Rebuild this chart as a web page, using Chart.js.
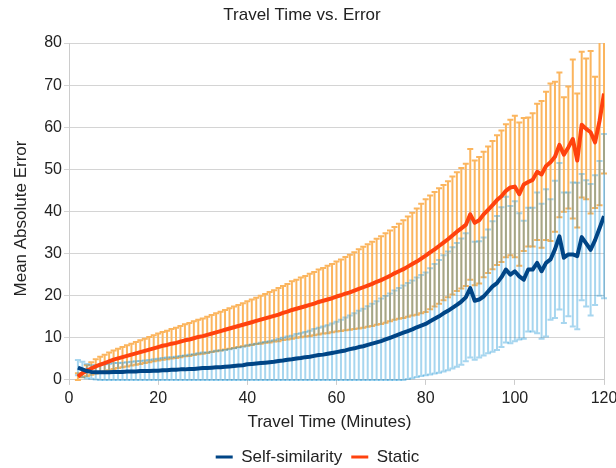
<!DOCTYPE html>
<html lang="en">
<head>
    <meta charset="UTF-8">
    <title>Travel Time vs. Error</title>
    <script src="https://cdn.jsdelivr.net/npm/chart.js@4.4.0/dist/chart.umd.min.js"></script>
    <style>
        html, body { margin: 0; padding: 0; background: #fff; }
        canvas { display: block; }
    </style>
</head>
<body>
    <canvas id="myChart" width="616" height="468"></canvas>
    <script>
        // travel time in minutes (x values)
        const minutes = [2, 3, 4, 5, 6, 7, 8, 9, 10,
            11, 12, 13, 14, 15, 16, 17, 18, 19, 20,
            21, 22, 23, 24, 25, 26, 27, 28, 29, 30,
            31, 32, 33, 34, 35, 36, 37, 38, 39, 40,
            41, 42, 43, 44, 45, 46, 47, 48, 49, 50,
            51, 52, 53, 54, 55, 56, 57, 58, 59, 60,
            61, 62, 63, 64, 65, 66, 67, 68, 69, 70,
            71, 72, 73, 74, 75, 76, 77, 78, 79, 80,
            81, 82, 83, 84, 85, 86, 87, 88, 89, 90,
            91, 92, 93, 94, 95, 96, 97, 98, 99, 100,
            101, 102, 103, 104, 105, 106, 107, 108, 109, 110,
            111, 112, 113, 114, 115, 116, 117, 118, 119, 120];

        // Self-similarity: mean absolute error and its deviation
        const ssMean = [2.9, 2.5, 2.1, 1.9, 1.8, 1.8, 1.8, 1.8, 1.9,
            1.9, 1.9, 2.0, 2.0, 2.0, 2.1, 2.1, 2.1, 2.2, 2.2,
            2.3, 2.3, 2.4, 2.4, 2.5, 2.5, 2.6, 2.6, 2.7, 2.8,
            2.8, 2.9, 3.0, 3.0, 3.1, 3.2, 3.3, 3.4, 3.5, 3.7,
            3.8, 3.9, 4.0, 4.1, 4.2, 4.3, 4.5, 4.6, 4.8, 4.9,
            5.1, 5.2, 5.4, 5.5, 5.7, 5.9, 6.0, 6.2, 6.4, 6.6,
            6.8, 7.0, 7.3, 7.5, 7.8, 8.0, 8.3, 8.6, 8.9, 9.2,
            9.6, 10.0, 10.4, 10.8, 11.2, 11.6, 12.0, 12.5, 12.9, 13.3,
            13.9, 14.5, 15.1, 15.8, 16.4, 17.1, 17.8, 18.6, 19.6, 21.8,
            18.8, 19.1, 19.8, 21.0, 22.2, 23.0, 24.4, 26.2, 25.0, 25.8,
            24.6, 23.8, 26.2, 26.2, 27.8, 25.8, 27.8, 28.6, 31.0, 34.1,
            29.0, 29.8, 29.8, 29.4, 33.9, 32.4, 30.9, 33.2, 36.0, 38.9];
        const ssSd = [1.8, 1.8, 1.7, 1.6, 1.7, 1.8, 1.9, 2.0, 2.1,
            2.1, 2.2, 2.2, 2.3, 2.4, 2.4, 2.5, 2.6, 2.7, 2.8,
            2.9, 3.0, 3.0, 3.1, 3.2, 3.3, 3.4, 3.5, 3.6, 3.7,
            3.7, 3.8, 3.9, 4.0, 4.0, 4.1, 4.2, 4.3, 4.4, 4.5,
            4.6, 4.7, 4.8, 4.9, 5.0, 5.1, 5.2, 5.4, 5.5, 5.6,
            5.8, 5.9, 6.0, 6.2, 6.4, 6.5, 6.7, 6.8, 7.0, 7.2,
            7.5, 7.8, 8.0, 8.3, 8.6, 8.9, 9.2, 9.5, 9.8, 10.1,
            10.3, 10.5, 10.8, 11.0, 11.2, 11.4, 11.6, 11.8, 12.0, 12.2,
            12.6, 13.0, 13.4, 13.8, 14.1, 14.4, 14.7, 15.0, 15.2, 16.5,
            14.0, 13.8, 14.0, 14.7, 15.5, 15.9, 16.6, 17.3, 16.3, 16.6,
            15.0, 14.0, 14.7, 14.7, 16.7, 16.0, 17.5, 14.3, 16.3, 17.4,
            15.5, 14.7, 17.1, 17.4, 15.0, 15.0, 15.6, 15.4, 16.0, 19.5];

        // Static: mean absolute error and its deviation
        const stMean = [0.8, 1.6, 2.2, 2.7, 3.2, 3.6, 4.0, 4.4, 4.8,
            5.1, 5.4, 5.7, 6.0, 6.3, 6.6, 6.9, 7.2, 7.5, 7.8,
            8.1, 8.3, 8.6, 8.8, 9.1, 9.4, 9.6, 9.9, 10.2, 10.4,
            10.7, 11.0, 11.3, 11.6, 11.9, 12.2, 12.5, 12.8, 13.1, 13.4,
            13.7, 14.0, 14.3, 14.6, 14.9, 15.2, 15.5, 15.9, 16.2, 16.6,
            16.9, 17.2, 17.5, 17.8, 18.1, 18.5, 18.8, 19.1, 19.4, 19.8,
            20.1, 20.5, 20.8, 21.2, 21.6, 22.0, 22.4, 22.8, 23.3, 23.7,
            24.2, 24.7, 25.3, 25.8, 26.3, 26.9, 27.5, 28.1, 28.8, 29.5,
            30.3, 31.0, 31.8, 32.6, 33.4, 34.3, 35.2, 36.0, 36.8, 39.3,
            37.3, 37.9, 39.3, 40.4, 41.5, 42.7, 43.6, 44.9, 45.7, 45.9,
            44.1, 46.4, 47.0, 47.5, 49.4, 48.8, 50.8, 51.7, 53.0, 55.8,
            53.5, 55.2, 57.2, 52.1, 60.6, 59.6, 58.8, 56.4, 61.5, 68.0];
        const stSd = [0.8, 1.0, 1.3, 1.5, 1.7, 1.9, 2.0, 2.1, 2.2,
            2.3, 2.4, 2.5, 2.6, 2.7, 2.8, 2.9, 3.0, 3.1, 3.2,
            3.3, 3.4, 3.5, 3.6, 3.7, 3.8, 3.9, 4.0, 4.1, 4.2,
            4.3, 4.4, 4.5, 4.6, 4.7, 4.8, 4.9, 5.0, 5.1, 5.3,
            5.4, 5.5, 5.7, 5.8, 6.0, 6.1, 6.3, 6.4, 6.6, 6.8,
            6.9, 7.1, 7.2, 7.4, 7.5, 7.7, 7.8, 8.0, 8.1, 8.3,
            8.5, 8.7, 8.9, 9.1, 9.4, 9.6, 9.8, 10.0, 10.2, 10.4,
            10.6, 10.8, 11.0, 11.3, 11.6, 11.9, 12.2, 12.6, 13.0, 13.4,
            13.5, 13.6, 13.7, 13.7, 13.8, 14.0, 14.1, 14.3, 14.5, 15.5,
            14.8, 15.0, 14.9, 15.0, 15.2, 15.4, 15.6, 15.8, 16.1, 16.8,
            17.0, 15.8, 15.3, 15.8, 16.2, 17.4, 17.6, 18.7, 17.8, 17.2,
            13.6, 14.5, 18.9, 15.9, 17.3, 16.7, 19.3, 15.6, 20.0, 19.0];

        const yMax = 80;
        const ssColor = '#004586';
        const stColor = '#ff420e';

        Chart.defaults.font.family = "'Liberation Sans', Arial, sans-serif";
        Chart.defaults.color = '#222';

        // error bars go under the two lines
        const errorBars = {
            id: 'errorBars',
            afterLayout(chart) {
                // legend in the reference sits a bit right of centre
                chart.legend.left += 31;
            },
            beforeDatasetsDraw(chart) {
                const ctx = chart.ctx;
                const x = chart.scales.x;
                const y = chart.scales.y;
                function drawBars(means, sds, color) {
                    ctx.strokeStyle = color;
                    ctx.lineWidth = 2;
                    for (let i = 0; i < minutes.length; i++) {
                        const px = x.getPixelForValue(minutes[i]);
                        const lo = Math.max(means[i] - sds[i], 0);
                        const hi = Math.min(means[i] + sds[i], yMax);
                        const pLo = y.getPixelForValue(lo);
                        const pHi = y.getPixelForValue(hi);
                        ctx.beginPath();
                        ctx.moveTo(px, pLo);
                        ctx.lineTo(px, pHi);
                        ctx.moveTo(px - 3, pLo);
                        ctx.lineTo(px + 3, pLo);
                        if (means[i] + sds[i] <= yMax) {
                            ctx.moveTo(px - 3, pHi);
                            ctx.lineTo(px + 3, pHi);
                        }
                        ctx.stroke();
                    }
                }
                ctx.save();
                drawBars(stMean, stSd, 'rgb(251,181,94)');
                drawBars(ssMean, ssSd, 'rgba(12,141,212,0.36)');
                ctx.restore();
            }
        };

        const ctx = document.getElementById('myChart').getContext('2d');
        const myChart = new Chart(ctx, {
            type: 'line',
            data: {
                datasets: [
                    {
                        label: 'Self-similarity',
                        data: minutes.map((m, i) => ({ x: m, y: ssMean[i] })),
                        borderColor: ssColor,
                        backgroundColor: ssColor,
                        borderWidth: 4,
                        pointRadius: 0,
                        borderJoinStyle: 'round'
                    },
                    {
                        label: 'Static',
                        data: minutes.map((m, i) => ({ x: m, y: stMean[i] })),
                        borderColor: stColor,
                        backgroundColor: stColor,
                        borderWidth: 4,
                        pointRadius: 0,
                        borderJoinStyle: 'round'
                    }
                ]
            },
            options: {
                responsive: false,
                animation: false,
                devicePixelRatio: 1,
                layout: { padding: { left: 0, right: 12, top: 0, bottom: -7.5 } },
                plugins: {
                    title: {
                        display: true,
                        text: 'Travel Time vs. Error',
                        font: { size: 17, weight: 'normal' },
                        padding: { top: 5, bottom: 17.6 }
                    },
                    legend: {
                        position: 'bottom',
                        labels: {
                            boxWidth: 17,
                            boxHeight: 3,
                            padding: 9,
                            font: { size: 17 },
                            generateLabels: chart => chart.data.datasets.map((ds, i) => ({
                                text: ds.label,
                                fillStyle: ds.borderColor,
                                strokeStyle: ds.borderColor,
                                lineWidth: 0,
                                hidden: false,
                                datasetIndex: i,
                                fontColor: '#222'
                            }))
                        }
                    },
                    tooltip: { enabled: false }
                },
                scales: {
                    x: {
                        type: 'linear',
                        min: 0,
                        max: 120,
                        ticks: { stepSize: 20, padding: 4, font: { size: 16 } },
                        grid: {
                            color: c => (c.tick && c.tick.value === 120) ? '#cccccc' : 'rgba(0,0,0,0)',
                            tickColor: '#cccccc',
                            tickLength: 5
                        },
                        border: { color: '#cccccc' },
                        title: {
                            display: true,
                            text: 'Travel Time (Minutes)   ',
                            font: { size: 17 },
                            padding: { top: 0, bottom: 7 }
                        },
                        afterFit(s) { s.paddingRight = 0; s.paddingLeft = 0; }
                    },
                    y: {
                        min: 0,
                        max: yMax,
                        ticks: { stepSize: 10, padding: 2, font: { size: 16 } },
                        grid: { color: '#d4d4d4', tickLength: 5 },
                        border: { color: '#cccccc' },
                        title: {
                            display: true,
                            text: 'Mean Absolute Error   ',
                            font: { size: 17 },
                            padding: { top: 11, bottom: 0 }
                        },
                        afterFit(s) { s.width = 69; }
                    }
                }
            },
            plugins: [errorBars]
        });
    </script>
</body>
</html>
